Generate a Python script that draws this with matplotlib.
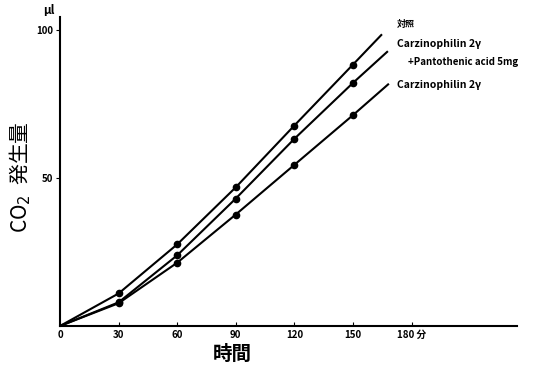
import matplotlib
matplotlib.use("Agg")
import matplotlib.pyplot as plt

plt.rcParams['font.family'] = ['Noto Sans CJK JP', 'DejaVu Sans']

# 時間 (分)
time = [0, 30, 60, 90, 120, 150]
control = [0, 11.0, 27.6, 46.9, 67.8, 88.4]
carz_pan = [0, 8.0, 23.9, 43.1, 63.3, 82.2]
carz = [0, 7.7, 21.4, 37.7, 54.5, 71.3]

# lines are drawn on a little past the last point
end_time = [164.5, 167.5, 168]
end_value = [98.4, 92.7, 81.7]

series = [control, carz_pan, carz]
labels = ['対照', 'Carzinophilin 2γ', 'Carzinophilin 2γ']
xticks = [0, 30, 60, 90, 120, 150, 180]
xticklabels = ['0', '30', '60', '90', '120', '150', '180 分']

fig = plt.figure(figsize=(5.54, 3.71), dpi=100)
ax = fig.add_axes([0.1083, 0.1213, 0.8249, 0.8337])

for ys, te, ye in zip(series, end_time, end_value):
    ax.plot(time + [te], ys + [ye], color='black', lw=1.5)
    ax.plot(time[1:], ys[1:], 'o', color='black', ms=4.5)

ax.set_xlim(0, 234)
ax.set_ylim(0, 104.6)
ax.spines['top'].set_visible(False)
ax.spines['right'].set_visible(False)
ax.spines['left'].set_linewidth(1.5)
ax.spines['bottom'].set_linewidth(1.5)

ax.set_xticks(xticks)
ax.set_xticklabels(xticklabels, fontsize=7, fontweight='bold')
ax.tick_params(axis='x', direction='in', length=3, pad=3)
ax.set_yticks([50, 100])
ax.set_yticklabels(['50', '100'], fontsize=7, fontweight='bold')
ax.tick_params(axis='y', direction='out', length=3, pad=2)

ax.text(-3, 106.8, 'μl', fontsize=8.5, fontweight='bold', style='italic',
        ha='right', va='center')

ax.set_xlabel('時間', fontsize=14, fontweight='bold')
ax.xaxis.set_label_coords(0.378, -0.06)
ax.set_ylabel('CO$_2$  発生量', fontsize=15)
ax.yaxis.set_label_coords(-0.06, 0.48)

ax.text(172.5, 101.8, labels[0], fontsize=6.5, fontweight='bold', va='center')
ax.text(172.5, 95.2, labels[1], fontsize=7.5, fontweight='bold', va='center')
ax.text(178, 89.3, '+Pantothenic acid 5mg', fontsize=7, fontweight='bold', va='center')
ax.text(172.5, 81.5, labels[2], fontsize=7.5, fontweight='bold', va='center')

fig.savefig('out.png', dpi=100)
